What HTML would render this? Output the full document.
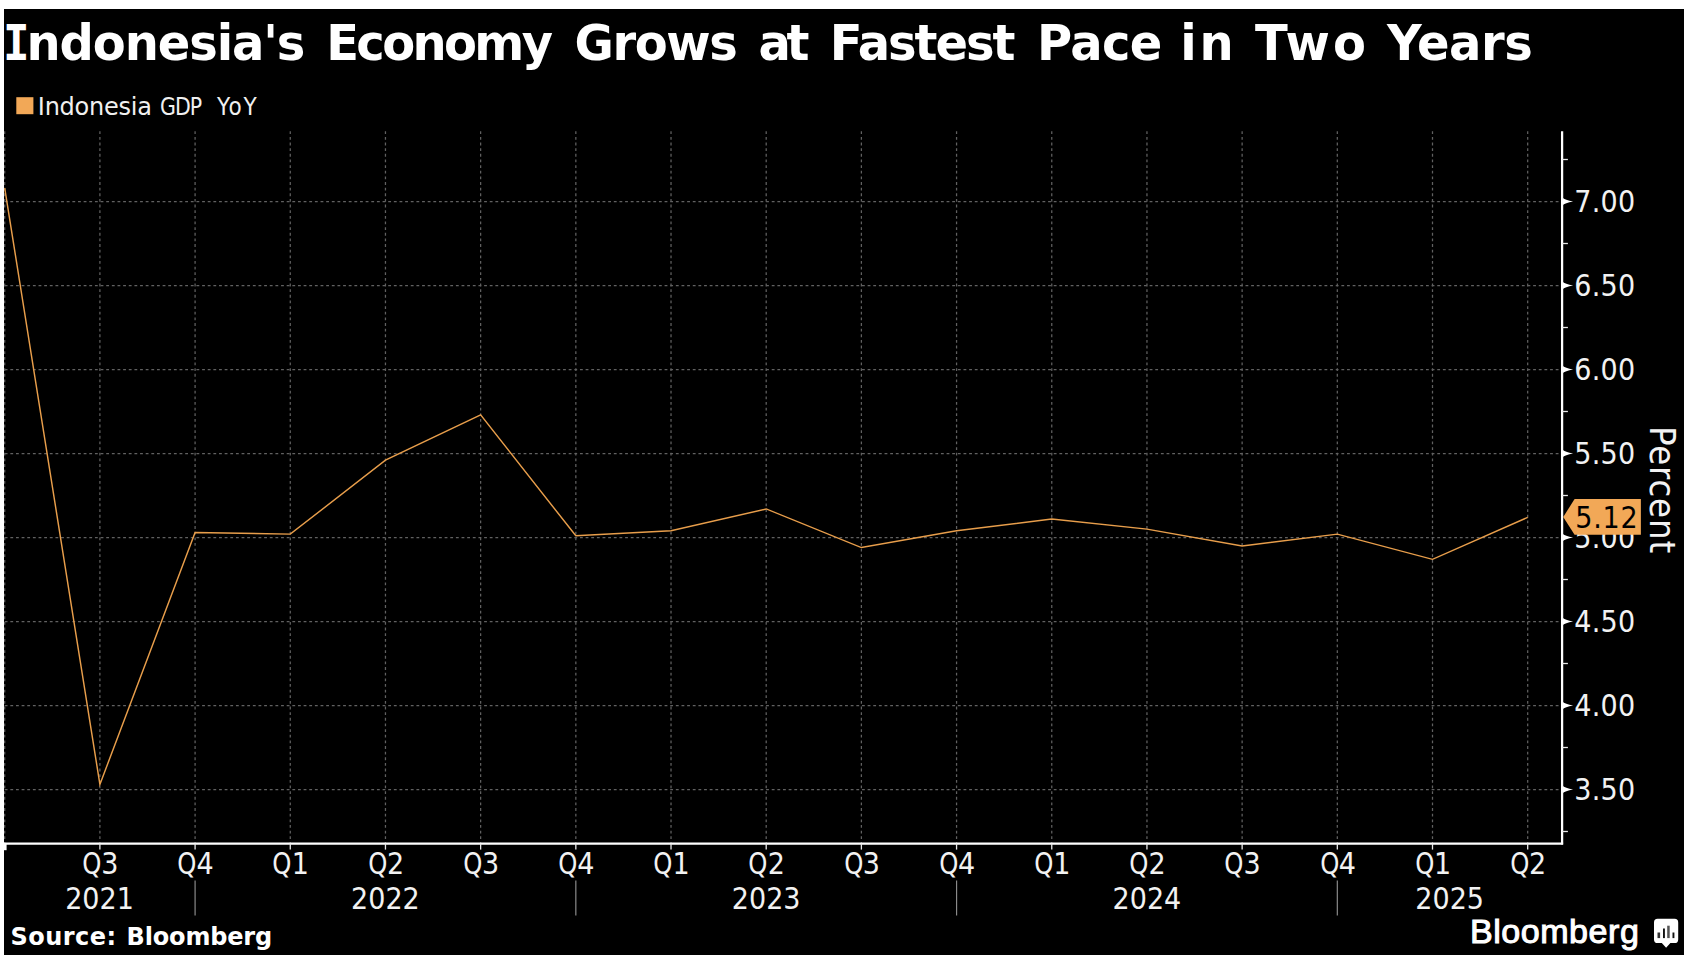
<!DOCTYPE html>
<html lang="en"><head><meta charset="utf-8"><title>Indonesia's Economy Grows at Fastest Pace in Two Years</title>
<style>
html,body{margin:0;padding:0;background:#fff;}
body{width:1690px;height:964px;position:relative;overflow:hidden;font-family:"DejaVu Sans","Liberation Sans",sans-serif;}
#chart{position:absolute;left:4px;top:9px;width:1680px;height:946px;background:#000;}
svg{position:absolute;left:0;top:0;}
.g{stroke:#616161;stroke-width:1.25;stroke-dasharray:2.82 2.82;fill:none}
.ax{stroke:#fff;stroke-width:2.25;fill:none}
.tk{stroke:#e8e8e8;stroke-width:1.3;fill:none}
.tri{fill:#fff}
.sep{stroke:#8a8a8a;stroke-width:1.2}
.d{stroke:#e89e4b;stroke-width:1.45;fill:none;stroke-linejoin:miter}
.t{position:absolute;white-space:nowrap;color:#f2f2f2;line-height:40px;height:40px;font-family:"DejaVu Sans Condensed","DejaVu Sans","Liberation Sans",sans-serif;font-size:30px;}
.Q{display:inline-block;transform:scaleX(.9);transform-origin:100% 50%}
.q{width:80px;text-align:center;top:843.7px}
.yr{width:80px;text-align:center;top:878.9px}
.yl{left:1574.2px;letter-spacing:0.3px}
#title{position:absolute;left:0;top:15.4px;width:1680px;height:56px;font:bold 48px/56px "DejaVu Sans","Liberation Sans",sans-serif;color:#fff;white-space:nowrap;margin:0;transform:scaleY(1.025);transform-origin:0 27.5px}
#title span{position:absolute;top:0;display:block}
#title i{font-style:normal;font-family:"DejaVu Sans Mono","DejaVu Sans",monospace;display:inline-block;transform:scaleX(.92);transform-origin:0 50%;}
#legend{position:absolute;left:0;top:92.3px;font-size:24px;line-height:30px;height:30px;color:#f0f0f0}
#legend span{position:absolute;top:0;display:block;transform-origin:0 50%}
#src span{position:absolute;top:0;display:block}
#src{position:absolute;left:0;top:922.3px;font:bold 24px/30px "DejaVu Sans","Liberation Sans",sans-serif;color:#fff;white-space:nowrap}
#bb{position:absolute;left:1470.4px;top:912.3px;font:33px/40px "Liberation Sans",sans-serif;color:#fff;white-space:nowrap;-webkit-text-stroke:1px #fff;letter-spacing:0.5px;transform:scaleX(1.032);transform-origin:0 50%}
#pct{position:absolute;left:1662.35px;top:490.4px;width:0;height:0;}
#pct span{position:absolute;display:block;white-space:nowrap;font:36px/40px "DejaVu Sans Condensed","DejaVu Sans","Liberation Sans",sans-serif;color:#f2f2f2;letter-spacing:0.9px;transform:translate(-50%,-50%) rotate(90deg);transform-origin:50% 50%;left:0;top:0}
#badge{left:1575.2px;top:497.9px;color:#000;font-size:30px;letter-spacing:0.8px}
</style></head><body>
<div id="chart"></div>
<svg width="1690" height="964" viewBox="0 0 1690 964">
<line class="g" x1="4.71" y1="131.3" x2="4.71" y2="843.6"/>
<line class="g" x1="99.90" y1="131.3" x2="99.90" y2="843.6"/>
<line class="g" x1="195.09" y1="131.3" x2="195.09" y2="843.6"/>
<line class="g" x1="290.27" y1="131.3" x2="290.27" y2="843.6"/>
<line class="g" x1="385.46" y1="131.3" x2="385.46" y2="843.6"/>
<line class="g" x1="480.64" y1="131.3" x2="480.64" y2="843.6"/>
<line class="g" x1="575.83" y1="131.3" x2="575.83" y2="843.6"/>
<line class="g" x1="671.02" y1="131.3" x2="671.02" y2="843.6"/>
<line class="g" x1="766.20" y1="131.3" x2="766.20" y2="843.6"/>
<line class="g" x1="861.39" y1="131.3" x2="861.39" y2="843.6"/>
<line class="g" x1="956.57" y1="131.3" x2="956.57" y2="843.6"/>
<line class="g" x1="1051.76" y1="131.3" x2="1051.76" y2="843.6"/>
<line class="g" x1="1146.95" y1="131.3" x2="1146.95" y2="843.6"/>
<line class="g" x1="1242.13" y1="131.3" x2="1242.13" y2="843.6"/>
<line class="g" x1="1337.32" y1="131.3" x2="1337.32" y2="843.6"/>
<line class="g" x1="1432.50" y1="131.3" x2="1432.50" y2="843.6"/>
<line class="g" x1="1527.69" y1="131.3" x2="1527.69" y2="843.6"/>
<line class="g" x1="4.7" y1="201.5" x2="1562.1" y2="201.5"/>
<line class="g" x1="4.7" y1="285.5" x2="1562.1" y2="285.5"/>
<line class="g" x1="4.7" y1="369.5" x2="1562.1" y2="369.5"/>
<line class="g" x1="4.7" y1="453.5" x2="1562.1" y2="453.5"/>
<line class="g" x1="4.7" y1="537.5" x2="1562.1" y2="537.5"/>
<line class="g" x1="4.7" y1="621.5" x2="1562.1" y2="621.5"/>
<line class="g" x1="4.7" y1="705.5" x2="1562.1" y2="705.5"/>
<line class="g" x1="4.7" y1="789.5" x2="1562.1" y2="789.5"/>
<line class="ax" x1="1562.1" y1="131.3" x2="1562.1" y2="844.6"/>
<line class="ax" x1="4" y1="843.6" x2="1563.1" y2="843.6"/>
<line class="tk" x1="1562.1" y1="159.5" x2="1567.8999999999999" y2="159.5"/>
<line class="tk" x1="1562.1" y1="243.5" x2="1567.8999999999999" y2="243.5"/>
<line class="tk" x1="1562.1" y1="327.5" x2="1567.8999999999999" y2="327.5"/>
<line class="tk" x1="1562.1" y1="411.5" x2="1567.8999999999999" y2="411.5"/>
<line class="tk" x1="1562.1" y1="495.5" x2="1567.8999999999999" y2="495.5"/>
<line class="tk" x1="1562.1" y1="579.5" x2="1567.8999999999999" y2="579.5"/>
<line class="tk" x1="1562.1" y1="663.5" x2="1567.8999999999999" y2="663.5"/>
<line class="tk" x1="1562.1" y1="747.5" x2="1567.8999999999999" y2="747.5"/>
<line class="tk" x1="1562.1" y1="831.5" x2="1567.8999999999999" y2="831.5"/>
<path class="tri" d="M1562.1 197.3 Q1565.1 200.3 1573.1 201.5 Q1565.1 202.7 1562.1 205.7Z"/>
<path class="tri" d="M1562.1 281.3 Q1565.1 284.3 1573.1 285.5 Q1565.1 286.7 1562.1 289.7Z"/>
<path class="tri" d="M1562.1 365.3 Q1565.1 368.3 1573.1 369.5 Q1565.1 370.7 1562.1 373.7Z"/>
<path class="tri" d="M1562.1 449.3 Q1565.1 452.3 1573.1 453.5 Q1565.1 454.7 1562.1 457.7Z"/>
<path class="tri" d="M1562.1 533.3 Q1565.1 536.3 1573.1 537.5 Q1565.1 538.7 1562.1 541.7Z"/>
<path class="tri" d="M1562.1 617.3 Q1565.1 620.3 1573.1 621.5 Q1565.1 622.7 1562.1 625.7Z"/>
<path class="tri" d="M1562.1 701.3 Q1565.1 704.3 1573.1 705.5 Q1565.1 706.7 1562.1 709.7Z"/>
<path class="tri" d="M1562.1 785.3 Q1565.1 788.3 1573.1 789.5 Q1565.1 790.7 1562.1 793.7Z"/>
<line class="tk" x1="99.90" y1="843.6" x2="99.90" y2="849.6"/>
<line class="tk" x1="195.09" y1="843.6" x2="195.09" y2="849.6"/>
<line class="tk" x1="290.27" y1="843.6" x2="290.27" y2="849.6"/>
<line class="tk" x1="385.46" y1="843.6" x2="385.46" y2="849.6"/>
<line class="tk" x1="480.64" y1="843.6" x2="480.64" y2="849.6"/>
<line class="tk" x1="575.83" y1="843.6" x2="575.83" y2="849.6"/>
<line class="tk" x1="671.02" y1="843.6" x2="671.02" y2="849.6"/>
<line class="tk" x1="766.20" y1="843.6" x2="766.20" y2="849.6"/>
<line class="tk" x1="861.39" y1="843.6" x2="861.39" y2="849.6"/>
<line class="tk" x1="956.57" y1="843.6" x2="956.57" y2="849.6"/>
<line class="tk" x1="1051.76" y1="843.6" x2="1051.76" y2="849.6"/>
<line class="tk" x1="1146.95" y1="843.6" x2="1146.95" y2="849.6"/>
<line class="tk" x1="1242.13" y1="843.6" x2="1242.13" y2="849.6"/>
<line class="tk" x1="1337.32" y1="843.6" x2="1337.32" y2="849.6"/>
<line class="tk" x1="1432.50" y1="843.6" x2="1432.50" y2="849.6"/>
<line class="tk" x1="1527.69" y1="843.6" x2="1527.69" y2="849.6"/>
<rect x="4" y="843.6" width="2.6" height="6.6" fill="#fff"/>
<line class="sep" x1="195.09" y1="880.5" x2="195.09" y2="915.5"/>
<line class="sep" x1="575.83" y1="880.5" x2="575.83" y2="915.5"/>
<line class="sep" x1="956.57" y1="880.5" x2="956.57" y2="915.5"/>
<line class="sep" x1="1337.32" y1="880.5" x2="1337.32" y2="915.5"/>
<polyline class="d" points="4.71,188.06 99.90,784.46 195.09,532.46 290.27,534.14 385.46,460.22 480.64,414.86 575.83,535.82 671.02,530.78 766.20,508.94 861.39,547.58 956.57,530.78 1051.76,519.02 1146.95,529.10 1242.13,545.90 1337.32,534.14 1432.50,559.34 1527.69,517.34"/>
<rect x="16.3" y="97.2" width="17.1" height="17" fill="#f2a857"/>
<g id="bbicon"><path d="M1657.6 918.8 H1674.6 Q1678.2 918.8 1678.2 922.4 V939.4 Q1678.2 943 1674.6 943 H1670.4 L1666.1 947.8 L1661.8 943 H1657.6 Q1654 943 1654 939.4 V922.4 Q1654 918.8 1657.6 918.8Z" fill="#fff"/>
<rect x="1657.5" y="932.5" width="2.6" height="5.6" fill="#333"/><rect x="1663" y="928.5" width="1.9" height="9.6" fill="#111"/><rect x="1667.2" y="925.7" width="2.5" height="12.4" fill="#555"/><rect x="1672.5" y="932.5" width="1.9" height="5.6" fill="#111"/></g>
</svg>
<h1 id="title"><span style="left:7.00px;letter-spacing:-1.10px"><i style="margin-right:-4.40px;margin-left:-4.00px">I</i>ndonesia's</span> <span style="left:326.20px;letter-spacing:-2.65px">Economy</span> <span style="left:574.40px;letter-spacing:-1.40px">Grows</span> <span style="left:758.40px;letter-spacing:-4.30px">at</span> <span style="left:829.80px;letter-spacing:-2.05px">Fastest</span> <span style="left:1037.10px;letter-spacing:-0.70px">Pace</span> <span style="left:1180.30px;letter-spacing:2.80px">in</span> <span style="left:1255.10px;letter-spacing:3.00px">Two</span> <span style="left:1387.10px;letter-spacing:-0.45px">Years</span></h1>
<div id="legend" class="t"><span style="left:37.8px;letter-spacing:-0.25px;font-family:'DejaVu Sans',sans-serif">Indonesia</span> <span style="left:159.6px;letter-spacing:-1px;transform:scaleX(.95)">GDP</span> <span style="left:217px;letter-spacing:1.6px">YoY</span></div>
<div class="t q" style="left:59.30px"><span class="Q">Q</span>3</div>
<div class="t q" style="left:154.49px"><span class="Q">Q</span>4</div>
<div class="t q" style="left:249.67px"><span class="Q">Q</span>1</div>
<div class="t q" style="left:344.86px"><span class="Q">Q</span>2</div>
<div class="t q" style="left:440.04px"><span class="Q">Q</span>3</div>
<div class="t q" style="left:535.23px"><span class="Q">Q</span>4</div>
<div class="t q" style="left:630.42px"><span class="Q">Q</span>1</div>
<div class="t q" style="left:725.60px"><span class="Q">Q</span>2</div>
<div class="t q" style="left:820.79px"><span class="Q">Q</span>3</div>
<div class="t q" style="left:915.97px"><span class="Q">Q</span>4</div>
<div class="t q" style="left:1011.16px"><span class="Q">Q</span>1</div>
<div class="t q" style="left:1106.35px"><span class="Q">Q</span>2</div>
<div class="t q" style="left:1201.53px"><span class="Q">Q</span>3</div>
<div class="t q" style="left:1296.72px"><span class="Q">Q</span>4</div>
<div class="t q" style="left:1391.90px"><span class="Q">Q</span>1</div>
<div class="t q" style="left:1487.09px"><span class="Q">Q</span>2</div>
<div class="t yr" style="left:59.54px">2021</div>
<div class="t yr" style="left:345.46px">2022</div>
<div class="t yr" style="left:726.20px">2023</div>
<div class="t yr" style="left:1106.95px">2024</div>
<div class="t yr" style="left:1409.71px">2025</div>
<div class="t yl" style="top:181.90px">7.00</div>
<div class="t yl" style="top:265.90px">6.50</div>
<div class="t yl" style="top:349.90px">6.00</div>
<div class="t yl" style="top:433.90px">5.50</div>
<div class="t yl" style="top:517.90px">5.00</div>
<div class="t yl" style="top:601.90px">4.50</div>
<div class="t yl" style="top:685.90px">4.00</div>
<div class="t yl" style="top:769.90px">3.50</div>
<svg width="1690" height="964" viewBox="0 0 1690 964"><path d="M1563.2 517 L1574.6 499.1 H1640.9 V534.7 H1574.6Z" fill="#f2a857"/></svg>
<div id="badge" class="t">5.12</div>
<div id="pct"><span>Percent</span></div>
<div id="src"><span style="left:10.4px;letter-spacing:0.5px">Source:</span> <span style="left:126.6px;letter-spacing:-0.17px">Bloomberg</span></div>
<div id="bb">Bloomberg</div>
</body></html>
